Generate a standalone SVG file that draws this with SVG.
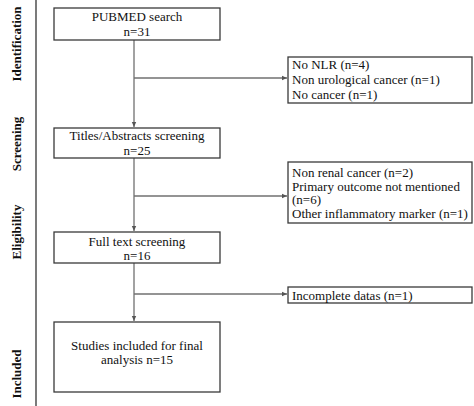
<svg xmlns="http://www.w3.org/2000/svg" width="474" height="406" viewBox="0 0 474 406">
<style>
.box{fill:#fff;stroke:#3a3a3a;stroke-width:1.3}
.t{font-family:"Liberation Serif","Times New Roman",serif;font-size:13px;fill:#111}
.c{text-anchor:middle}
.ph{font-family:"Liberation Serif","Times New Roman",serif;font-size:13px;font-weight:bold;fill:#111;text-anchor:middle}
.ln{stroke:#707070;stroke-width:1.3;fill:none}
</style>
<defs>
<marker id="ah" markerWidth="6" markerHeight="6" refX="5" refY="3" orient="auto" markerUnits="userSpaceOnUse">
<path d="M0,0.8 L5,3 L0,5.2 z" fill="#555"/>
</marker>
</defs>
<rect width="474" height="406" fill="#fff"/>
<g id="phases">
<line x1="36" y1="0" x2="36" y2="406" stroke="#333" stroke-width="1.3"/>
<text class="ph" transform="translate(21,44) rotate(-90)">Identification</text>
<text class="ph" transform="translate(21,144) rotate(-90)">Screening</text>
<text class="ph" transform="translate(21,232) rotate(-90)">Eligibility</text>
<text class="ph" transform="translate(21,374) rotate(-90)">Included</text>
</g>
<g id="connectors">
<line class="ln" x1="134" y1="40" x2="134" y2="127" marker-end="url(#ah)"/>
<line class="ln" x1="134" y1="78" x2="287" y2="78" marker-end="url(#ah)"/>
<line class="ln" x1="134" y1="158" x2="134" y2="231" marker-end="url(#ah)"/>
<line class="ln" x1="134" y1="196" x2="287" y2="196" marker-end="url(#ah)"/>
<line class="ln" x1="134" y1="263" x2="134" y2="321" marker-end="url(#ah)"/>
<line class="ln" x1="134" y1="294" x2="287" y2="294" marker-end="url(#ah)"/>
</g>
<g id="pubmed">
<rect class="box" x="54" y="8" width="166" height="32"/>
<text class="t c" x="137" y="21">PUBMED search</text>
<text class="t c" x="137" y="36">n=31</text>
</g>
<g id="excl1">
<rect class="box" x="288" y="57" width="184" height="46"/>
<text class="t" x="292" y="69">No NLR (n=4)</text>
<text class="t" x="292" y="84">Non urological cancer (n=1)</text>
<text class="t" x="292" y="99">No cancer (n=1)</text>
</g>
<g id="titles">
<rect class="box" x="54" y="128" width="166" height="30"/>
<text class="t c" x="137" y="140">Titles/Abstracts screening</text>
<text class="t c" x="137" y="155">n=25</text>
</g>
<g id="excl2">
<rect class="box" x="288" y="162" width="184" height="61"/>
<text class="t" x="292" y="177">Non renal cancer (n=2)</text>
<text class="t" x="292" y="190.5">Primary outcome not mentioned</text>
<text class="t" x="292" y="204">(n=6)</text>
<text class="t" x="292" y="218">Other inflammatory marker (n=1)</text>
</g>
<g id="fulltext">
<rect class="box" x="54" y="232" width="166" height="31"/>
<text class="t c" x="137" y="246">Full text screening</text>
<text class="t c" x="137" y="260">n=16</text>
</g>
<g id="excl3">
<rect class="box" x="288" y="287" width="184" height="16"/>
<text class="t" x="292" y="299.5">Incomplete datas (n=1)</text>
</g>
<g id="included">
<rect class="box" x="54" y="322" width="166" height="70"/>
<text class="t c" x="137" y="350">Studies included for final</text>
<text class="t c" x="137" y="364">analysis n=15</text>
</g>
</svg>
